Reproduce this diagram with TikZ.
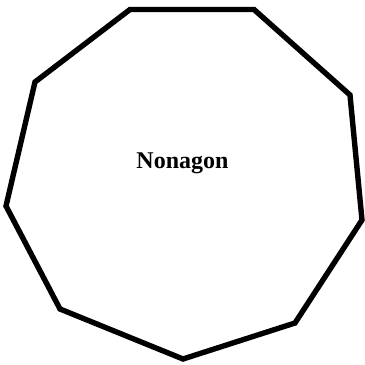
\documentclass[tikz,border=0pt]{standalone}
\usepackage{fontspec}
\setmainfont{Liberation Serif}
\begin{document}
\begin{tikzpicture}[x=1pt,y=1pt,
  edge/.style={line width=5.4pt,line join=miter,black},
  lbl/.style={font=\bfseries\fontsize{24}{27}\selectfont,inner sep=0pt}]
\useasboundingbox (0,0) rectangle (365,365);
\coordinate (A) at (130,355.5);
\coordinate (B) at (254,355.5);
\coordinate (C) at (350,270);
\coordinate (D) at (362,145);
\coordinate (E) at (295,42);
\coordinate (F) at (183,6);
\coordinate (G) at (60,56);
\coordinate (H) at (6,159);
\coordinate (I) at (35,283);
\draw[edge] (A) -- (B) -- (C) -- (D) -- (E) -- (F) -- (G) -- (H) -- (I) -- cycle;
\node[lbl] (t) at (182.5,202) {Nonagon};
\end{tikzpicture}
\end{document}
